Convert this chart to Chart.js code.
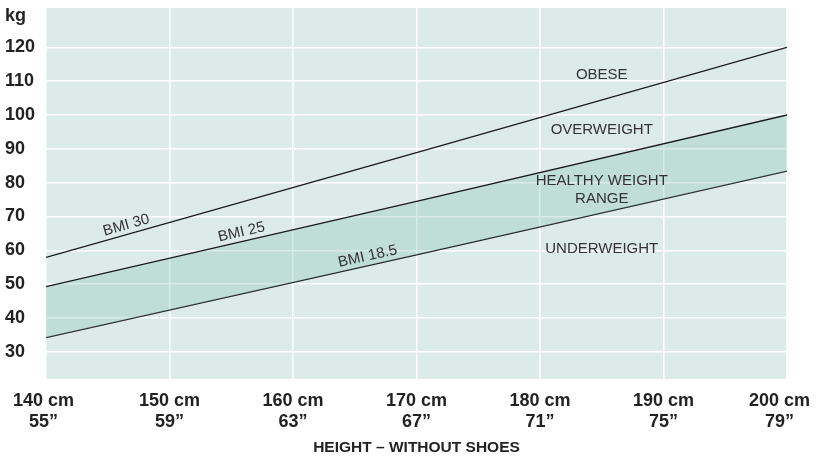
<!DOCTYPE html>
<html>
<head>
<meta charset="utf-8">
<script src="https://cdn.jsdelivr.net/npm/chart.js@4"></script>
<style>
  html, body { margin: 0; padding: 0; background: #fff; }
  #wrap { width: 816px; height: 457px; }
</style>
</head>
<body>
<div id="wrap"><canvas id="bmiChart"></canvas></div>
<script>
  // Data
  const HEIGHT_CM = [140, 150, 160, 170, 180, 190, 200];
  const HEIGHT_IN = ['55”', '59”', '63”', '67”', '71”', '75”', '79”'];
  const WEIGHT_TICKS = [30, 40, 50, 60, 70, 80, 90, 100, 110, 120];

  const LINE_X = [140, 170, 200];
  const BMI_30 = [57.9, 88.9, 120];
  const BMI_25 = [49.3, 74.5, 100];
  const BMI_18 = [34.2, 58.7, 83.4];

  const ZONE_TEXT = [['OBESE'], ['OVERWEIGHT'], ['HEALTHY WEIGHT', 'RANGE'], ['UNDERWEIGHT']];
  const ZONE_KG = [111.8, 95.7, 78, 60.4];
  const ZONE_CM = 185;

  const PLOT_BG = '#dcebe7';
  const BAND = 'rgba(130,190,175,0.30)';
  const INK = '#222';
  const FONT = '"Liberation Sans", Arial, sans-serif';
  const TICK_FONT = { family: FONT, size: 18, weight: 'bold' };

  const pts = vals => LINE_X.map((x, i) => ({ x, y: vals[i] }));

  const lines = [
    { label: 'BMI 30',   data: pts(BMI_30), tagAt: 146.7 },
    { label: 'BMI 25',   data: pts(BMI_25), tagAt: 156.0, fill: { target: '+1' }, backgroundColor: BAND },
    { label: 'BMI 18.5', data: pts(BMI_18), tagAt: 166.2 },
  ];

  // edge labels sit a little inside the plot, as in the print
  const edgePad = i => i === 0 ? ' ' : (i === HEIGHT_CM.length - 1 ? '   ' : '');

  const plotBg = {
    id: 'plotBg',
    beforeDraw(chart) {
      const { ctx, chartArea: a } = chart;
      ctx.save();
      ctx.fillStyle = PLOT_BG;
      ctx.fillRect(a.left, a.top, a.right - a.left, a.bottom - a.top);
      ctx.restore();
    }
  };

  const textLayer = {
    id: 'textLayer',
    afterDatasetsDraw(chart) {
      const { ctx, chartArea: a, scales: { x, y } } = chart;
      ctx.save();
      ctx.fillStyle = '#333';
      ctx.font = '15px ' + FONT;
      ctx.textAlign = 'center';
      ctx.textBaseline = 'middle';
      // zone names
      ZONE_TEXT.forEach((rows, i) => {
        const cx = x.getPixelForValue(ZONE_CM);
        const cy = y.getPixelForValue(ZONE_KG[i]);
        rows.forEach((r, j) => ctx.fillText(r, cx, cy + (j - (rows.length - 1) / 2) * 18));
      });
      // BMI tags along each line
      ctx.textBaseline = 'alphabetic';
      chart.data.datasets.forEach((ds, i) => {
        const p = chart.getDatasetMeta(i).data;
        const px = x.getPixelForValue(ds.tagAt);
        let k = 0;
        while (k < p.length - 2 && p[k + 1].x < px) k++;
        const t = (px - p[k].x) / (p[k + 1].x - p[k].x);
        const py = p[k].y + t * (p[k + 1].y - p[k].y);
        const ang = Math.atan2(p[k + 1].y - p[k].y, p[k + 1].x - p[k].x);
        ctx.save();
        ctx.translate(px, py);
        ctx.rotate(ang);
        ctx.fillText(ds.label, 0, -5);
        ctx.restore();
      });
      // unit label above the y ticks
      ctx.fillStyle = INK;
      ctx.textAlign = 'left';
      ctx.font = 'bold 18px ' + FONT;
      ctx.fillText('kg', y.left, a.top + 13);
      ctx.restore();
    }
  };

  new Chart(document.getElementById('bmiChart'), {
    type: 'line',
    data: {
      datasets: lines.map(l => ({
        label: l.label,
        data: l.data,
        tagAt: l.tagAt,
        borderColor: '#1a1a1a',
        borderWidth: 1.3,
        pointRadius: 0,
        tension: 0,
        fill: l.fill || false,
        backgroundColor: l.backgroundColor || 'transparent',
      }))
    },
    options: {
      responsive: true,
      maintainAspectRatio: false,
      animation: false,
      layout: { padding: { left: 5, right: 29, top: 8, bottom: 0 } },
      plugins: { legend: { display: false }, tooltip: { enabled: false } },
      scales: {
        x: {
          type: 'linear',
          min: 140, max: 200,
          afterBuildTicks: s => { s.ticks = HEIGHT_CM.map(v => ({ value: v })); },
          afterFit: s => { s.height = 78; s.paddingLeft = 0; s.paddingRight = 0; },
          grid: { color: '#fff', lineWidth: 1.5, drawTicks: false },
          border: { display: false },
          ticks: {
            color: INK, font: TICK_FONT, padding: 11, maxRotation: 0,
            callback: (v, i) => [v + ' cm' + edgePad(i), HEIGHT_IN[i] + edgePad(i)]
          },
          title: {
            display: true, text: 'HEIGHT – WITHOUT SHOES', color: INK,
            font: { family: FONT, size: 15.5, weight: 'bold' },
            padding: { top: 0, bottom: 0 }
          }
        },
        y: {
          min: 22, max: 131.6,
          afterBuildTicks: s => { s.ticks = WEIGHT_TICKS.map(v => ({ value: v })); },
          afterFit: s => { s.width = 41; s.paddingTop = 0; s.paddingBottom = 0; },
          grid: { color: '#fff', lineWidth: 1.5, drawTicks: false },
          border: { display: false },
          ticks: { color: INK, font: TICK_FONT, padding: 11, crossAlign: 'far' }
        }
      }
    },
    plugins: [plotBg, textLayer]
  });
</script>
</body>
</html>
